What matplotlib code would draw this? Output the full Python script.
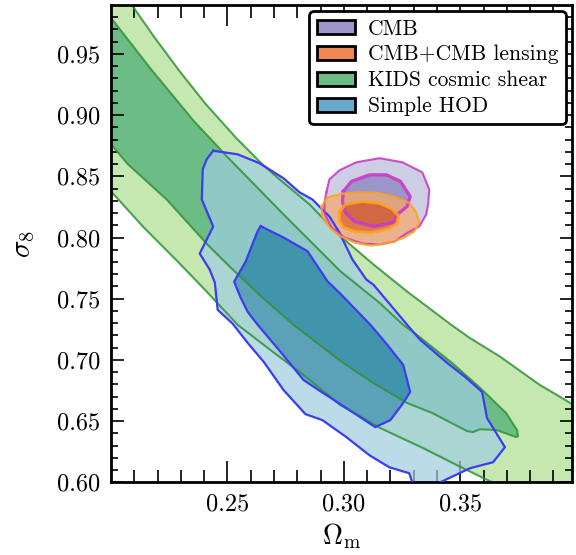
import numpy as np
import matplotlib
matplotlib.use("Agg")
import matplotlib.pyplot as plt
from matplotlib.path import Path
from matplotlib.patches import PathPatch, Patch

plt.rcParams['font.family'] = 'serif'
plt.rcParams['font.serif'] = ['cmr10']
plt.rcParams['mathtext.fontset'] = 'cm'
plt.rcParams['axes.formatter.use_mathtext'] = True

# ---------------- data (contour outlines: Omega_m, sigma_8) ----------------
labels = ["CMB", "CMB+CMB lensing", "KIDS cosmic shear", "Simple HOD"]

kids_2s_om = [0.2069, 0.2086, 0.2186, 0.2293, 0.2407, 0.2536, 0.2650, 0.2724, 0.2853, 0.2985,
              0.3128, 0.3271, 0.3461, 0.3542, 0.3671, 0.3842, 0.3928, 0.3975, 0.4050, 0.4050,
              0.3667, 0.3637, 0.3487, 0.3341, 0.3157, 0.2985, 0.2827, 0.2673, 0.2544, 0.2403,
              0.2287, 0.2141, 0.2000, 0.1953, 0.1950]
kids_2s_s8 = [0.9950, 0.9910, 0.9637, 0.9363, 0.9090, 0.8817, 0.8598, 0.8475, 0.8270, 0.8011,
              0.7779, 0.7560, 0.7287, 0.7178, 0.7027, 0.6795, 0.6699, 0.6645, 0.6566, 0.5900,
              0.5934, 0.6000, 0.6139, 0.6279, 0.6443, 0.6631, 0.6877, 0.7098, 0.7287, 0.7574,
              0.7803, 0.8082, 0.8377, 0.8475, 0.9950]

kids_1s_om = [0.1974, 0.2000, 0.2171, 0.2356, 0.2501, 0.2741, 0.2985, 0.3153, 0.3255, 0.3324,
              0.3465, 0.3581, 0.3697, 0.3744, 0.3748, 0.3740, 0.3658, 0.3585, 0.3555, 0.3530,
              0.3380, 0.3272, 0.3127, 0.2985, 0.2784, 0.2647, 0.2523, 0.2414, 0.2239, 0.2073,
              0.2000, 0.1970]
kids_1s_s8 = [0.9861, 0.9795, 0.9377, 0.8951, 0.8656, 0.8189, 0.7725, 0.7467, 0.7287, 0.7189,
              0.6975, 0.6779, 0.6566, 0.6426, 0.6377, 0.6369, 0.6426, 0.6434, 0.6410, 0.6418,
              0.6566, 0.6648, 0.6811, 0.6992, 0.7287, 0.7516, 0.7738, 0.7943, 0.8311, 0.8598,
              0.8762, 0.8844]

hod_2s_om = [0.2439, 0.2544, 0.2638, 0.2741, 0.2810, 0.2865, 0.2938, 0.2981, 0.3037, 0.3097,
             0.3127, 0.3272, 0.3328, 0.3444, 0.3521, 0.3594, 0.3615, 0.3692, 0.3641, 0.3542,
             0.3414, 0.3367, 0.3307, 0.3294, 0.3281, 0.3195, 0.3110, 0.3011, 0.2908, 0.2835,
             0.2741, 0.2656, 0.2587, 0.2523, 0.2458, 0.2446, 0.2424, 0.2381, 0.2439, 0.2390,
             0.2394, 0.2411]
hod_2s_s8 = [0.8709, 0.8680, 0.8607, 0.8484, 0.8369, 0.8311, 0.8172, 0.8041, 0.7820, 0.7656,
             0.7615, 0.7287, 0.7164, 0.6975, 0.6861, 0.6738, 0.6525, 0.6287, 0.6164, 0.6115,
             0.6000, 0.5918, 0.5918, 0.6000, 0.6074, 0.6123, 0.6221, 0.6369, 0.6508, 0.6557,
             0.6754, 0.6984, 0.7139, 0.7295, 0.7410, 0.7631, 0.7738, 0.7869, 0.8090, 0.8311,
             0.8557, 0.8639]

hod_1s_om = [0.2643, 0.2741, 0.2844, 0.2930, 0.2985, 0.3114, 0.3187, 0.3255, 0.3285, 0.3255,
             0.3200, 0.3135, 0.2985, 0.2891, 0.2827, 0.2728, 0.2630, 0.2587, 0.2557, 0.2529,
             0.2578, 0.2629]
hod_1s_s8 = [0.8093, 0.8000, 0.7888, 0.7642, 0.7541, 0.7287, 0.7123, 0.6959, 0.6738, 0.6648,
             0.6508, 0.6451, 0.6639, 0.6754, 0.6836, 0.7066, 0.7287, 0.7393, 0.7508, 0.7639,
             0.7803, 0.8049]

cmb_2s_om = [0.2925, 0.2938, 0.2981, 0.3054, 0.3153, 0.3251, 0.3337, 0.3367, 0.3362, 0.3354,
             0.3324, 0.3268, 0.3217, 0.3153, 0.3080, 0.3003, 0.2947, 0.2917, 0.2917]
cmb_2s_s8 = [0.8369, 0.8475, 0.8549, 0.8615, 0.8648, 0.8615, 0.8533, 0.8393, 0.8270, 0.8189,
             0.8090, 0.8033, 0.7967, 0.7943, 0.7951, 0.8000, 0.8082, 0.8197, 0.8287]

cmb_1s_om = [0.2998, 0.3033, 0.3110, 0.3183, 0.3243, 0.3285, 0.3272, 0.3230, 0.3213, 0.3131,
             0.3045, 0.3007, 0.2994]
cmb_1s_s8 = [0.8377, 0.8459, 0.8512, 0.8512, 0.8459, 0.8336, 0.8254, 0.8189, 0.8123, 0.8090,
             0.8131, 0.8205, 0.8295]

lens_2s_om = [0.2904, 0.2930, 0.2990, 0.3067, 0.3140, 0.3213, 0.3281, 0.3311, 0.3324, 0.3302,
              0.3260, 0.3195, 0.3118, 0.3045, 0.2981, 0.2938, 0.2908]
lens_2s_s8 = [0.8254, 0.8328, 0.8357, 0.8369, 0.8365, 0.8336, 0.8283, 0.8205, 0.8123, 0.8049,
              0.8000, 0.7959, 0.7934, 0.7959, 0.8016, 0.8082, 0.8172]

lens_1s_om = [0.2981, 0.3007, 0.3080, 0.3153, 0.3204, 0.3234, 0.3230, 0.3191, 0.3118, 0.3045,
              0.2998, 0.2981]
lens_1s_s8 = [0.8213, 0.8270, 0.8295, 0.8279, 0.8238, 0.8180, 0.8115, 0.8070, 0.8041, 0.8049,
              0.8082, 0.8139]

# ---------------- helpers ----------------
def _area(p):
    return 0.5 * np.sum(p[:, 0] * np.roll(p[:, 1], -1) - np.roll(p[:, 0], -1) * p[:, 1])

def ring_path(ox, oy, ix, iy):
    outer = np.column_stack([ox, oy])
    inner = np.column_stack([ix, iy])
    if np.sign(_area(outer)) == np.sign(_area(inner)):
        inner = inner[::-1]
    verts = np.concatenate([outer, outer[:1], inner, inner[:1]])
    codes = ([Path.MOVETO] + [Path.LINETO] * (len(outer) - 1) + [Path.CLOSEPOLY] +
             [Path.MOVETO] + [Path.LINETO] * (len(inner) - 1) + [Path.CLOSEPOLY])
    return Path(verts, codes)

def closed(x, y):
    return list(x) + [x[0]], list(y) + [y[0]]

# ---------------- figure ----------------
fig = plt.figure(figsize=(5.76, 5.55), dpi=100)
ax = fig.add_axes([111 / 576, 1 - 482.3 / 555, 461 / 576, 477.3 / 555])

# KIDS (bottom layer, opaque)
kids_edge = '#33923a'
ax.fill(kids_2s_om, kids_2s_s8, color='#c5e8b1', lw=0, zorder=1)
ax.fill(kids_1s_om, kids_1s_s8, color='#6cbd85', lw=0, zorder=1.1)

# HOD
ax.add_patch(PathPatch(ring_path(hod_2s_om, hod_2s_s8, hod_1s_om, hod_1s_s8),
                       facecolor='#9fcde1', edgecolor='none', alpha=0.7, zorder=2))
ax.fill(hod_1s_om, hod_1s_s8, color='#2e83bc', alpha=0.7, lw=0, zorder=2.1)

# KIDS edges drawn above the HOD fill
ax.plot(*closed(kids_2s_om, kids_2s_s8), color=kids_edge, lw=1.5, alpha=0.85, zorder=2.5)
ax.plot(*closed(kids_1s_om, kids_1s_s8), color=kids_edge, lw=1.5, alpha=0.85, zorder=2.5)

# CMB
ax.add_patch(PathPatch(ring_path(cmb_2s_om, cmb_2s_s8, cmb_1s_om, cmb_1s_s8),
                       facecolor='#b8b8d8', edgecolor='none', alpha=0.7, zorder=3))
ax.fill(cmb_1s_om, cmb_1s_s8, color='#7369b0', alpha=0.7, lw=0, zorder=3.1)

# CMB + lensing
ax.add_patch(PathPatch(ring_path(lens_2s_om, lens_2s_s8, lens_1s_om, lens_1s_s8),
                       facecolor='#f8a969', edgecolor='none', alpha=0.7, zorder=4))
ax.fill(lens_1s_om, lens_1s_s8, color='#ea540c', alpha=0.7, lw=0, zorder=4.1)

# edges
hod_edge = '#3c3cf2'
ax.plot(*closed(hod_2s_om, hod_2s_s8), color=hod_edge, lw=1.6, zorder=5)
ax.plot(*closed(hod_1s_om, hod_1s_s8), color=hod_edge, lw=1.6, zorder=5)
cmb_edge = '#c83cc8'
ax.plot(*closed(cmb_2s_om, cmb_2s_s8), color=cmb_edge, lw=1.5, alpha=0.9, zorder=5.1)
ax.plot(*closed(cmb_1s_om, cmb_1s_s8), color=cmb_edge, lw=2.4, alpha=0.9, zorder=5.1)
lens_edge = '#ffa31a'
ax.plot(*closed(lens_2s_om, lens_2s_s8), color=lens_edge, lw=1.6, alpha=0.85, zorder=5.2)
ax.plot(*closed(lens_1s_om, lens_1s_s8), color=lens_edge, lw=2.2, alpha=0.85, zorder=5.2)

# axes
ax.set_xlim(0.2, 0.398)
ax.set_ylim(0.6, 0.99)
ax.set_xticks([0.25, 0.30, 0.35])
ax.set_xticklabels(['0.25', '0.30', '0.35'])
ax.set_yticks([0.60, 0.65, 0.70, 0.75, 0.80, 0.85, 0.90, 0.95])
ax.set_yticklabels(['0.60', '0.65', '0.70', '0.75', '0.80', '0.85', '0.90', '0.95'])
ax.set_xticks(np.arange(0.21, 0.3981, 0.01), minor=True)
ax.set_yticks(np.arange(0.61, 0.99, 0.01), minor=True)
for s in ax.spines.values():
    s.set_linewidth(2.0)
ax.tick_params(axis='both', which='both', direction='in', top=True, right=True,
               width=1.2, labelsize=17.5)
ax.tick_params(axis='x', which='major', length=15, pad=8)
ax.tick_params(axis='x', which='minor', length=9)
ax.tick_params(axis='y', which='major', length=9, pad=8)
ax.tick_params(axis='y', which='minor', length=5)

ax.set_xlabel(r'$\Omega_{\rm m}$', fontsize=20, labelpad=4)
ax.set_ylabel(r'$\sigma_8$', fontsize=21, labelpad=14)

handles = [Patch(facecolor='#9d96c8', edgecolor='black', lw=2),
           Patch(facecolor='#f08755', edgecolor='black', lw=2),
           Patch(facecolor='#6cbd85', edgecolor='black', lw=2),
           Patch(facecolor='#6ba8d0', edgecolor='black', lw=2)]
leg = ax.legend(handles, labels, loc='upper right', fontsize=15.5, fancybox=True,
                framealpha=1, edgecolor='black', borderaxespad=0.3,
                handlelength=1.75, handleheight=0.65, labelspacing=0.3,
                borderpad=0.35, handletextpad=0.6)
leg.get_frame().set_linewidth(2.0)
leg.set_zorder(10)

fig.savefig('out.png', dpi=100)
